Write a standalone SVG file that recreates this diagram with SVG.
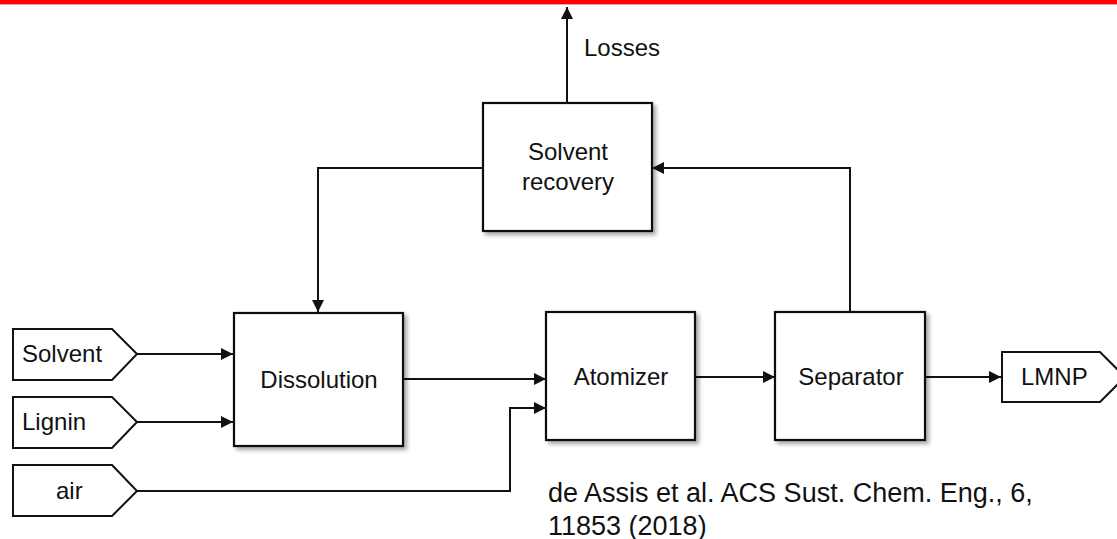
<svg xmlns="http://www.w3.org/2000/svg" width="1117" height="539" viewBox="0 0 1117 539">
<style>
.box{fill:#fff;stroke:#111;stroke-width:2.2;filter:url(#sh)}
.io{fill:#fff;stroke:#111;stroke-width:2}
.ln{fill:none;stroke:#111;stroke-width:2}
text{font-family:"Liberation Sans",Arial,sans-serif;font-size:24px;fill:#111}
.c{text-anchor:middle}
</style>
<defs>
<filter id="sh" x="-10%" y="-10%" width="125%" height="125%">
<feDropShadow dx="3" dy="3" stdDeviation="2" flood-color="#000" flood-opacity="0.35"/>
</filter>
<marker id="ah" viewBox="0 0 10 10" refX="10" refY="5" markerWidth="12" markerHeight="12" markerUnits="userSpaceOnUse" orient="auto">
<path d="M0,0 L10,5 L0,10 Z" fill="#111"/>
</marker>
</defs>
<rect x="0" y="0" width="1117" height="4" fill="#ff0000"/>
<rect x="0" y="4" width="1117" height="1" fill="#ff9a9a"/>
<g id="connectors">
<path class="ln" d="M567,103 V7" marker-end="url(#ah)"/>
<path class="ln" d="M483,168 H318 V312" marker-end="url(#ah)"/>
<path class="ln" d="M850,312 V168 H652" marker-end="url(#ah)"/>
<path class="ln" d="M137,354 H233" marker-end="url(#ah)"/>
<path class="ln" d="M137,422 H233" marker-end="url(#ah)"/>
<path class="ln" d="M137,491 H510 V408 H546" marker-end="url(#ah)"/>
<path class="ln" d="M403,379 H546" marker-end="url(#ah)"/>
<path class="ln" d="M695,377 H775" marker-end="url(#ah)"/>
<path class="ln" d="M925,377 H1001" marker-end="url(#ah)"/>
</g>
<text x="584" y="56">Losses</text>
<g id="solvent-recovery">
<rect class="box" x="483" y="103" width="169" height="128"/>
<text class="c" x="568" y="160">Solvent</text>
<text class="c" x="568" y="190">recovery</text>
</g>
<g id="dissolution">
<rect class="box" x="234" y="313" width="169" height="133"/>
<text class="c" x="319" y="388">Dissolution</text>
</g>
<g id="atomizer">
<rect class="box" x="546" y="312" width="149" height="128"/>
<text class="c" x="621" y="385">Atomizer</text>
</g>
<g id="separator">
<rect class="box" x="775" y="312" width="150" height="128"/>
<text class="c" x="851" y="385">Separator</text>
</g>
<g id="in-solvent">
<path class="io" d="M13,329 H112 L137,354 L112,380 H13 Z"/>
<text x="22" y="362">Solvent</text>
</g>
<g id="in-lignin">
<path class="io" d="M13,397 H112 L137,422 L112,448 H13 Z"/>
<text x="22" y="430">Lignin</text>
</g>
<g id="in-air">
<path class="io" d="M13,465 H112 L137,491 L112,516 H13 Z"/>
<text x="56" y="499">air</text>
</g>
<g id="out-lmnp">
<path class="io" d="M1002,352 H1100 L1125,377 L1100,402 H1002 Z"/>
<text x="1021" y="385">LMNP</text>
</g>
<g id="citation">
<text x="548" y="502" style="font-size:27px">de Assis et al. ACS Sust. Chem. Eng., 6,</text>
<text x="548" y="535" style="font-size:27px">11853 (2018)</text>
</g>
</svg>
